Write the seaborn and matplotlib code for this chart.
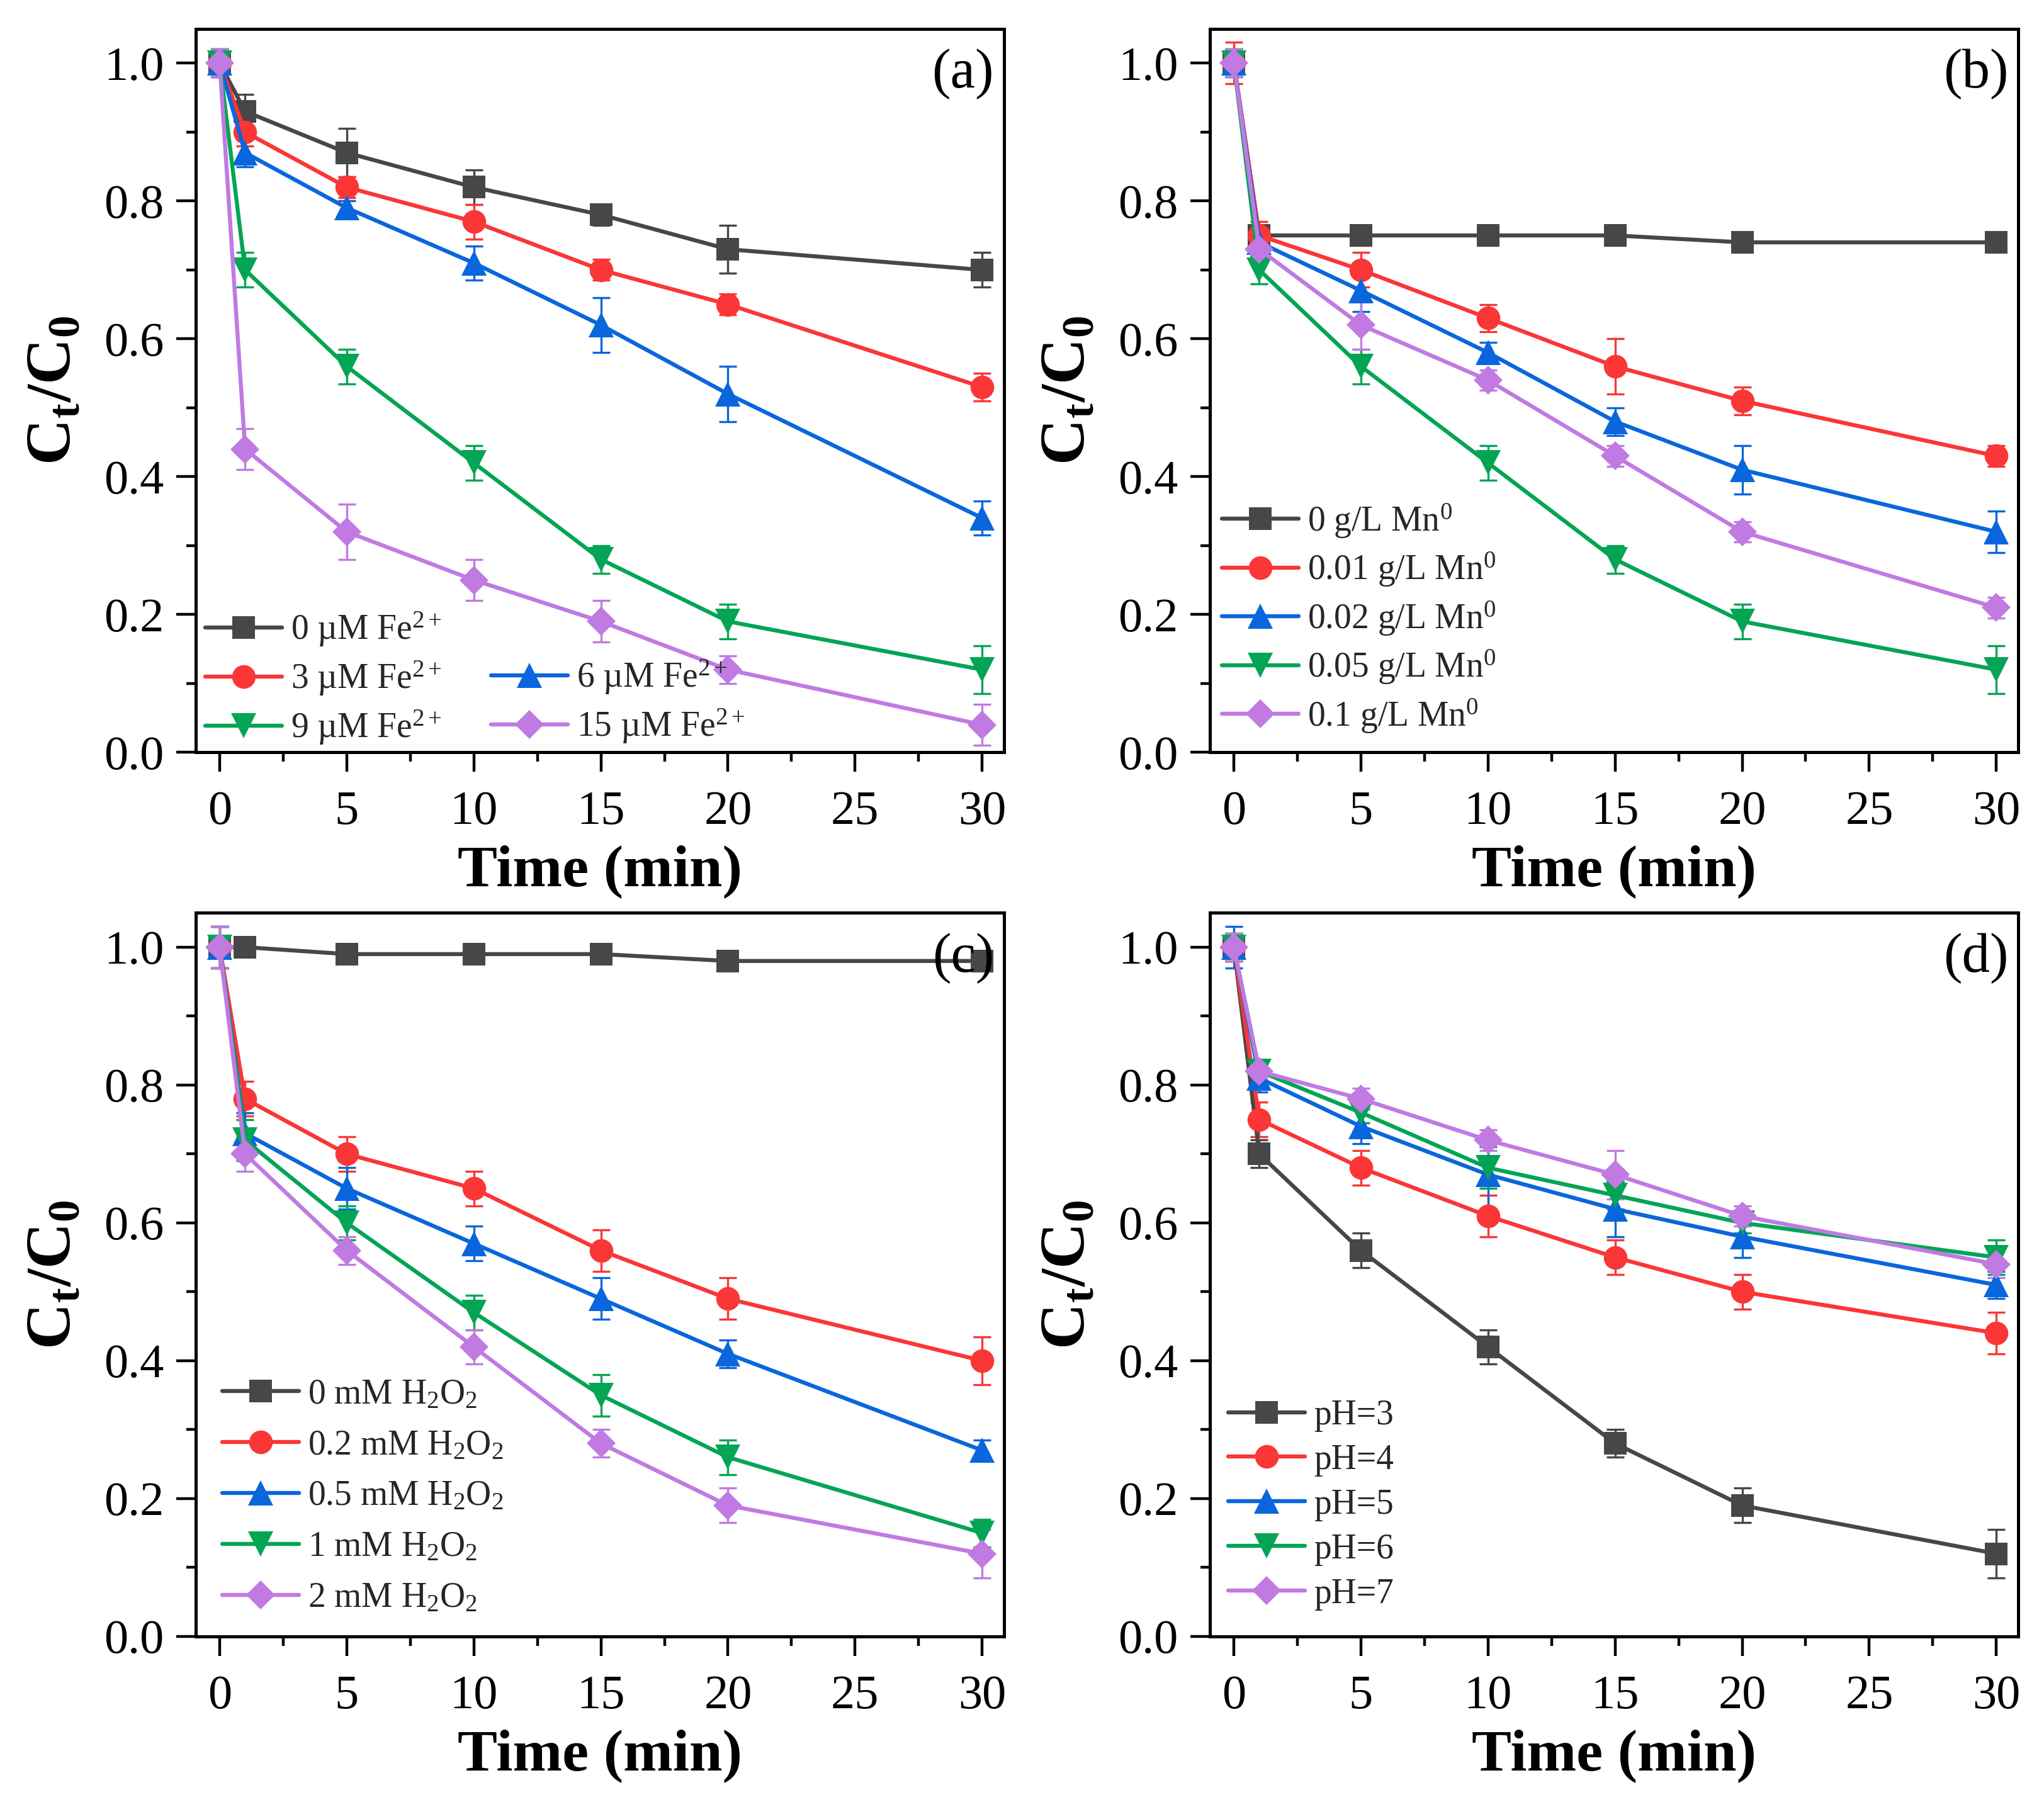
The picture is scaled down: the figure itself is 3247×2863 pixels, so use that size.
import numpy as np
import pandas as pd
import matplotlib
matplotlib.use("Agg")
import matplotlib.pyplot as plt
from matplotlib.ticker import MultipleLocator, FormatStrFormatter
import seaborn as sns

# ---------------- data ----------------
time = [0, 1, 5, 10, 15, 20, 30]

a_labels = ["0 µM Fe$^{2+}$", "3 µM Fe$^{2+}$", "6 µM Fe$^{2+}$", "9 µM Fe$^{2+}$", "15 µM Fe$^{2+}$"]
a_vals = [
    [1.00, 0.93, 0.87, 0.82, 0.78, 0.73, 0.70],
    [1.00, 0.90, 0.82, 0.77, 0.70, 0.65, 0.53],
    [1.00, 0.87, 0.79, 0.71, 0.62, 0.52, 0.34],
    [1.00, 0.70, 0.56, 0.42, 0.28, 0.19, 0.12],
    [1.00, 0.44, 0.32, 0.25, 0.19, 0.12, 0.04],
]
a_errs = [
    [0.02, 0.025, 0.035, 0.025, 0.015, 0.035, 0.025],
    [0.02, 0.020, 0.015, 0.025, 0.015, 0.015, 0.020],
    [0.02, 0.020, 0.010, 0.025, 0.040, 0.040, 0.025],
    [0.02, 0.025, 0.025, 0.025, 0.020, 0.025, 0.035],
    [0.02, 0.030, 0.040, 0.030, 0.030, 0.020, 0.030],
]

b_labels = ["0 g/L Mn$^{0}$", "0.01 g/L Mn$^{0}$", "0.02 g/L Mn$^{0}$", "0.05 g/L Mn$^{0}$", "0.1 g/L Mn$^{0}$"]
b_vals = [
    [1.00, 0.75, 0.75, 0.75, 0.75, 0.74, 0.74],
    [1.00, 0.75, 0.70, 0.63, 0.56, 0.51, 0.43],
    [1.00, 0.74, 0.67, 0.58, 0.48, 0.41, 0.32],
    [1.00, 0.70, 0.56, 0.42, 0.28, 0.19, 0.12],
    [1.00, 0.73, 0.62, 0.54, 0.43, 0.32, 0.21],
]
b_errs = [
    [0.02, 0.010, 0.005, 0.005, 0.005, 0.005, 0.005],
    [0.03, 0.020, 0.025, 0.020, 0.040, 0.020, 0.015],
    [0.02, 0.020, 0.030, 0.015, 0.020, 0.035, 0.030],
    [0.02, 0.020, 0.025, 0.025, 0.020, 0.025, 0.035],
    [0.02, 0.020, 0.035, 0.015, 0.015, 0.015, 0.015],
]

c_labels = ["0 mM H$_{2}$O$_{2}$", "0.2 mM H$_{2}$O$_{2}$", "0.5 mM H$_{2}$O$_{2}$", "1 mM H$_{2}$O$_{2}$", "2 mM H$_{2}$O$_{2}$"]
c_vals = [
    [1.00, 1.00, 0.99, 0.99, 0.99, 0.98, 0.98],
    [1.00, 0.78, 0.70, 0.65, 0.56, 0.49, 0.40],
    [1.00, 0.73, 0.65, 0.57, 0.49, 0.41, 0.27],
    [1.00, 0.72, 0.60, 0.47, 0.35, 0.26, 0.15],
    [1.00, 0.70, 0.56, 0.42, 0.28, 0.19, 0.12],
]
c_errs = [
    [0.03, 0.005, 0.005, 0.005, 0.005, 0.005, 0.005],
    [0.03, 0.025, 0.025, 0.025, 0.030, 0.030, 0.035],
    [0.03, 0.030, 0.030, 0.025, 0.030, 0.020, 0.015],
    [0.03, 0.030, 0.025, 0.025, 0.030, 0.025, 0.020],
    [0.03, 0.025, 0.020, 0.025, 0.020, 0.025, 0.035],
]

d_labels = ["pH=3", "pH=4", "pH=5", "pH=6", "pH=7"]
d_vals = [
    [1.00, 0.70, 0.56, 0.42, 0.28, 0.19, 0.12],
    [1.00, 0.75, 0.68, 0.61, 0.55, 0.50, 0.44],
    [1.00, 0.81, 0.74, 0.67, 0.62, 0.58, 0.51],
    [1.00, 0.82, 0.76, 0.68, 0.64, 0.60, 0.55],
    [1.00, 0.82, 0.78, 0.72, 0.67, 0.61, 0.54],
]
d_errs = [
    [0.02, 0.020, 0.025, 0.025, 0.020, 0.025, 0.035],
    [0.02, 0.025, 0.025, 0.030, 0.025, 0.025, 0.030],
    [0.03, 0.020, 0.025, 0.050, 0.040, 0.030, 0.020],
    [0.02, 0.015, 0.015, 0.030, 0.020, 0.015, 0.025],
    [0.02, 0.010, 0.015, 0.015, 0.035, 0.015, 0.020],
]

panel_tags = ["(a)", "(b)", "(c)", "(d)"]

# ---------------- style ----------------
colors = ["#474747", "#fa3636", "#0a66dc", "#03a554", "#c07ae2"]
markers = ["s", "o", "^", "v", "D"]
msizes = [26, 27, 29, 29, 23]

sns.set_theme(style="ticks")
plt.rcParams["font.family"] = ["Liberation Serif", "DejaVu Serif"]
plt.rcParams["mathtext.fontset"] = "custom"
plt.rcParams["mathtext.rm"] = "Liberation Serif"
plt.rcParams["mathtext.it"] = "Liberation Serif:italic"
plt.rcParams["mathtext.bf"] = "Liberation Serif:bold"

fig = plt.figure(figsize=(32.47, 28.63), dpi=100)
W, H = 1568.0, 1382.0
boxes = [
    (150, 22, 770, 577),
    (928, 22, 1548, 577),
    (150, 700, 770, 1255),
    (928, 700, 1548, 1255),
]

panels = [
    (a_labels, a_vals, a_errs),
    (b_labels, b_vals, b_errs),
    (c_labels, c_vals, c_errs),
    (d_labels, d_vals, d_errs),
]

leg_cfg = [
    dict(anchor=(0.012, 0.008), ncol=2, spacing=0.31),
    dict(anchor=(0.015, 0.024), ncol=1, spacing=0.30),
    dict(anchor=(0.033, 0.030), ncol=1, spacing=0.52),
    dict(anchor=(0.023, 0.036), ncol=1, spacing=0.34),
]

for i, ((labels, vals, errs), (x0, y0, x1, y1)) in enumerate(zip(panels, boxes)):
    ax = fig.add_axes([x0 / W, 1 - y1 / H, (x1 - x0) / W, (y1 - y0) / H])
    rows = []
    for lab, v in zip(labels, vals):
        for t, y in zip(time, v):
            rows.append({"time": t, "value": y, "series": lab})
    df = pd.DataFrame(rows)
    sns.lineplot(data=df, x="time", y="value", hue="series", style="series",
                 hue_order=labels, style_order=labels, palette=colors,
                 markers=markers, dashes=False, linewidth=4.6,
                 markeredgewidth=0, errorbar=None, sort=False,
                 legend=False, ax=ax, zorder=3)
    lines = list(ax.get_lines())[:len(labels)]
    for ln, ms in zip(lines, msizes):
        ln.set_markersize(ms)
    for v, e, c in zip(vals, errs, colors):
        ax.errorbar(time, v, yerr=e, fmt="none", ecolor=c, elinewidth=2.4,
                    capsize=10, capthick=2.4, zorder=2.5)

    ax.set_xlim(-0.95, 30.85)
    ax.set_ylim(0.0, 1.05)
    ax.xaxis.set_major_locator(MultipleLocator(5))
    ax.xaxis.set_minor_locator(MultipleLocator(2.5))
    ax.yaxis.set_major_locator(MultipleLocator(0.2))
    ax.yaxis.set_minor_locator(MultipleLocator(0.1))
    ax.yaxis.set_major_formatter(FormatStrFormatter("%.1f"))
    ax.tick_params(axis="both", which="major", direction="out", length=22,
                   width=3.2, labelsize=55, color="black", labelcolor="black")
    ax.tick_params(axis="both", which="minor", direction="out", length=11,
                   width=3.2, color="black")
    ax.tick_params(axis="x", which="major", pad=22)
    ax.tick_params(axis="y", which="major", pad=14)
    for sp in ax.spines.values():
        sp.set_visible(True)
        sp.set_linewidth(3.6)
        sp.set_color("black")

    ax.set_xlabel("Time (min)", fontsize=68, fontweight="bold", color="black")
    ax.set_ylabel(r"$\mathbf{C_t/C_0}$", fontsize=73, color="black")
    ax.xaxis.set_label_coords(0.5, -0.128)
    ax.yaxis.set_label_coords(-0.137, 0.5)

    ax.text(0.988, 0.937, panel_tags[i], transform=ax.transAxes, ha="right",
            va="center", fontsize=64, color="black", zorder=5)

    cfg = leg_cfg[i]
    handles = list(lines)
    labs = list(labels)
    if cfg["ncol"] == 2:
        blank = plt.Line2D([], [], linestyle="none", marker=None)
        handles = [lines[0], lines[1], lines[3], blank, lines[2], lines[4]]
        labs = [labels[0], labels[1], labels[3], "", labels[2], labels[4]]
    ax.legend(handles, labs, loc="lower left", bbox_to_anchor=cfg["anchor"],
              ncol=cfg["ncol"], frameon=False, fontsize=40, borderpad=0,
              borderaxespad=0, handlelength=2.2, handletextpad=0.25,
              labelspacing=cfg["spacing"], columnspacing=1.4)

fig.savefig("out.png", dpi=100, facecolor="white")
